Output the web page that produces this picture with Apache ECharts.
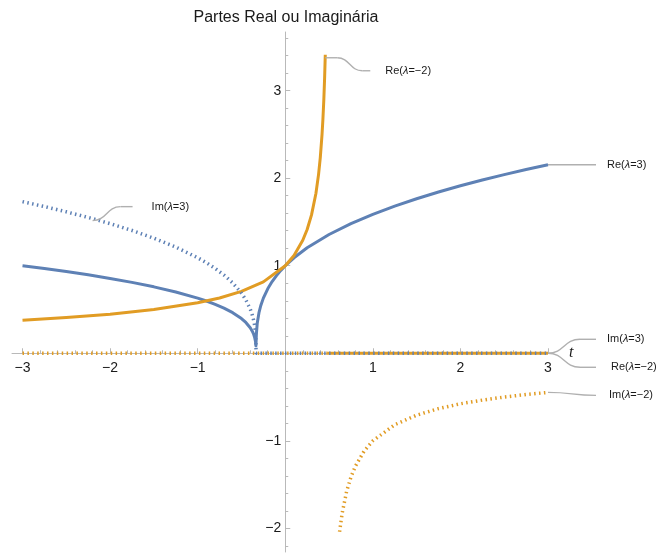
<!DOCTYPE html>
<html>
<head>
<meta charset="utf-8">
<script src="https://cdn.jsdelivr.net/npm/echarts@6/dist/echarts.min.js"></script>
<style>
html,body{margin:0;padding:0;background:#fff;}
#c{width:670px;height:555px;}
</style>
</head>
<body>
<div id="c"></div>
<script>
// ---- data ----
var titleText = 'Partes Real ou Imaginária';
var xMajorTicks = [-3, -2, -1, 1, 2, 3];
var yMajorTicks = [-2, -1, 1, 2, 3];
var xMinorTicks = [-3,-2.8,-2.6,-2.4,-2.2,-2,-1.8,-1.6,-1.4,-1.2,-1,-0.8,-0.6,-0.4,-0.2,0.2,0.4,0.6,0.8,1,1.2,1.4,1.6,1.8,2,2.2,2.4,2.6,2.8,3];
var yMinorTicks = [-2.2,-2,-1.8,-1.6,-1.4,-1.2,-1,-0.8,-0.6,-0.4,-0.2,0.2,0.4,0.6,0.8,1,1.2,1.4,1.6,1.8,2,2.2,2.4,2.6,2.8,3,3.2,3.4,3.6];

// Re(λ=3)  (blue solid)
var reL3 = [[-3,1.0],[-2.75,0.968],[-2.5,0.933],[-2.25,0.896],[-2,0.855],[-1.75,0.81],[-1.5,0.759],[-1.25,0.7],[-1,0.63],[-0.9,0.597],[-0.8,0.559],[-0.7,0.516],[-0.6,0.464],[-0.5,0.397],[-0.45,0.352],[-0.4,0.292],[-0.375,0.25],[-0.36,0.215],[-0.35,0.184],[-0.34,0.136],[-0.335,0.085],[-0.3333,0.07],[-0.332,0.159],[-0.33,0.215],[-0.32,0.342],[-0.3,0.464],[-0.28,0.543],[-0.25,0.63],[-0.2,0.737],[-0.15,0.819],[-0.1,0.888],[-0.05,0.947],[0,1.0],[0.1,1.091],[0.25,1.205],[0.5,1.357],[0.75,1.481],[1,1.587],[1.25,1.681],[1.5,1.765],[1.75,1.842],[2,1.913],[2.25,1.979],[2.5,2.041],[2.75,2.099],[3,2.154]];
// Im(λ=3)  (blue dotted)
var imL3 = [[-3,1.732],[-2.75,1.676],[-2.5,1.616],[-2.2,1.538],[-2,1.481],[-1.75,1.403],[-1.5,1.315],[-1.25,1.213],[-1,1.091],[-0.9,1.034],[-0.8,0.969],[-0.7,0.894],[-0.6,0.804],[-0.5,0.687],[-0.45,0.61],[-0.4,0.506],[-0.375,0.433],[-0.36,0.373],[-0.35,0.319],[-0.34,0.235],[-0.335,0.148],[-0.3333,0],[3,0]];
// Re(λ=-2) (orange solid)
var reLm2 = [[-3,0.378],[-2.5,0.408],[-2,0.447],[-1.5,0.5],[-1,0.577],[-0.75,0.632],[-0.5,0.707],[-0.25,0.816],[0,1.0],[0.1,1.118],[0.2,1.291],[0.25,1.414],[0.3,1.581],[0.35,1.826],[0.38,2.041],[0.4,2.236],[0.42,2.5],[0.43,2.673],[0.44,2.887],[0.45,3.162],[0.457,3.41],[0.47,null],[0.478,0],[3,0]];
// Im(λ=-2) (orange dotted)
var imLm2 = [[-3,0],[0.48,0],[0.6,null],[0.62,-2.04],[0.65,-1.826],[0.7,-1.581],[0.75,-1.414],[0.8,-1.291],[0.9,-1.118],[1,-1.0],[1.25,-0.816],[1.5,-0.707],[1.75,-0.632],[2,-0.577],[2.25,-0.535],[2.5,-0.5],[2.75,-0.471],[3,-0.447]];

var labelNames = ['Re(λ=−2)', 'Re(λ=3)', 'Im(λ=3)', 'Im(λ=3)', 'Re(λ=−2)', 'Im(λ=−2)'];

// ---- chart ----
var BLUE = '#5E81B5', ORANGE = '#E19C24', AXIS = '#b9b9b9';
var xMin = -3.12, xMax = 3, yMin = -2.27, yMax = 3.67;
var W = 670, H = 555;
var G = {left:12, right:122, top:32, bottom:3};
var plotW = W - G.left - G.right, plotH = H - G.top - G.bottom;
// axis offsets so that the axes cross at the origin (Mathematica style)
var offBottom = -plotH * (0 - yMin) / (yMax - yMin);
var offTop = -plotH * (yMax - 0) / (yMax - yMin);
var offLeft = -plotW * (0 - xMin) / (xMax - xMin);
var offRight = -plotW * (xMax - 0) / (xMax - xMin);

function fmt(v){ return String(v).replace('-', '\u2212'); }

var chart = echarts.init(document.getElementById('c'), null, {renderer:'canvas'});
var axisFont = {fontFamily:'Liberation Sans, Arial, sans-serif', fontSize:14, color:'#1a1a1a'};

function px(p){ return chart.convertToPixel({xAxisIndex:0, yAxisIndex:0}, p); }

var DOT = [1.5, 3.4];
var option = {
  animation:false,
  title:{text:titleText, left:281, top:5, textAlign:'center',
    textStyle:{fontFamily:'Liberation Sans, Arial, sans-serif', fontSize:16, fontWeight:'normal', color:'#1a1a1a'}},
  grid:{left:G.left, right:G.right, top:G.top, bottom:G.bottom, containLabel:false, outerBoundsMode:'none'},
  xAxis:[
    {type:'value', min:xMin, max:xMax, position:'bottom', offset:offBottom, splitLine:{show:false},
     axisLine:{show:true, onZero:false, lineStyle:{color:AXIS, width:1}},
     axisTick:{show:true, inside:true, length:5, customValues:xMajorTicks, lineStyle:{color:AXIS}},
     axisLabel:Object.assign({customValues:xMajorTicks, margin:8, formatter:fmt}, axisFont),
     name:'t', nameLocation:'end', nameGap:21,
     nameTextStyle:{fontFamily:'Liberation Serif, Times New Roman, serif', fontStyle:'italic', fontSize:16, color:'#1a1a1a'}},
    {type:'value', min:xMin, max:xMax, position:'top', offset:offTop, splitLine:{show:false},
     axisLine:{show:false, onZero:false},
     axisTick:{show:true, inside:false, length:3, customValues:xMinorTicks, lineStyle:{color:AXIS}},
     axisLabel:{show:false}}
  ],
  yAxis:[
    {type:'value', min:yMin, max:yMax, position:'left', offset:offLeft, splitLine:{show:false},
     axisLine:{show:true, onZero:false, lineStyle:{color:AXIS, width:1}},
     axisTick:{show:true, inside:true, length:5, customValues:yMajorTicks, lineStyle:{color:AXIS}},
     axisLabel:Object.assign({customValues:yMajorTicks, margin:4, formatter:fmt}, axisFont)},
    {type:'value', min:yMin, max:yMax, position:'right', offset:offRight, splitLine:{show:false},
     axisLine:{show:false, onZero:false},
     axisTick:{show:true, inside:false, length:3, customValues:yMinorTicks, lineStyle:{color:AXIS}},
     axisLabel:{show:false}}
  ],
  series:[
    {name:'Re(λ=3)', type:'line', data:reL3, showSymbol:false, symbol:'none', smooth:false,
     lineStyle:{color:BLUE, width:3, join:'round'}},
    {name:'Re(λ=-2)', type:'line', data:reLm2, showSymbol:false, symbol:'none', connectNulls:false,
     lineStyle:{color:ORANGE, width:3, join:'round'}},
    {name:'Im(λ=3)', type:'line', data:imL3, showSymbol:false, symbol:'none',
     lineStyle:{color:BLUE, width:3.5, type:DOT, cap:'butt'}},
    {name:'Im(λ=-2)', type:'line', data:imLm2, showSymbol:false, symbol:'none', connectNulls:false,
     lineStyle:{color:ORANGE, width:3.5, type:DOT, cap:'butt'}}
  ]
};
chart.setOption(option);

// ---- callout labels with leader lines (anchored to data points) ----
var lastRe3 = reL3[reL3.length-1];
var topReM2 = reLm2[20];
var lastImM2 = imLm2[imLm2.length-1];
var callouts = [
  {a:topReM2, dy0:3, dx:45, dy:13, gap:15, flat0:12, flatEnd:8},
  {a:lastRe3, dy0:0, dx:48, dy:0, gap:11, flat0:0, flatEnd:0},
  {a:imL3[3], dy0:2, dx:40, dy:-14, gap:19, flat0:0, flatEnd:12},
  {a:[3,0], dy0:0, dx:48, dy:-14, gap:11, flat0:0, flatEnd:16},
  {a:[3,0], dy0:0, dx:48, dy:14, gap:15, flat0:0, flatEnd:16},
  {a:lastImM2, dy0:0, dx:48, dy:3, gap:13, flat0:0, flatEnd:0}
];
var graphics = [];
var LS = {stroke:'#b0b0b0', lineWidth:1.4, fill:null};
callouts.forEach(function(c, i){
  var s = px(c.a); s = [s[0], s[1] + c.dy0];
  var e = [s[0] + c.dx, s[1] + c.dy];
  var f0 = s[0] + c.flat0;
  var fe = e[0] - c.flatEnd;
  var mid = (f0 + fe) / 2;
  if (c.flat0 > 0) graphics.push({type:'line', shape:{x1:s[0], y1:s[1], x2:f0, y2:s[1]}, style:LS, z:10, silent:true});
  graphics.push({type:'bezierCurve', shape:{x1:f0, y1:s[1], cpx1:mid, cpy1:s[1], cpx2:mid, cpy2:e[1], x2:fe, y2:e[1]}, style:LS, z:10, silent:true});
  if (c.flatEnd > 0) graphics.push({type:'line', shape:{x1:fe, y1:e[1], x2:e[0], y2:e[1]}, style:LS, z:10, silent:true});
  var name = labelNames[i];
  var k = name.indexOf('λ');
  graphics.push({type:'text', x:e[0] + c.gap, y:e[1], z:10, silent:true,
    style:{text:'{a|' + name.slice(0,k) + '}{b|λ}{a|' + name.slice(k+1) + '}', verticalAlign:'middle', align:'left',
      rich:{a:{fontFamily:'Liberation Sans, Arial, sans-serif', fontSize:11, fill:'#1a1a1a', color:'#1a1a1a'},
            b:{fontFamily:'Liberation Sans, Arial, sans-serif', fontSize:11, fontStyle:'italic', fill:'#1a1a1a', color:'#1a1a1a'}}}});
});
chart.setOption({graphic:graphics});
</script>
</body>
</html>
